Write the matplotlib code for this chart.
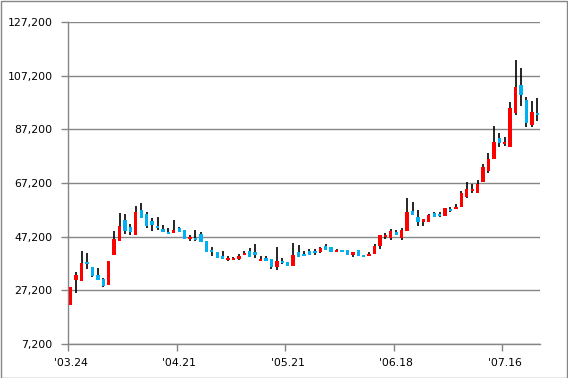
import numpy as np
import matplotlib
matplotlib.use("Agg")
import matplotlib.pyplot as plt
from matplotlib.patches import Rectangle

# OHLC values (87 sessions)
opens = [21730, 31050, 30790, 37870, 35900, 32910, 31420, 29190, 40480, 45590,
         53410, 50800, 47930, 57140, 55650, 53150, 51170, 50060, 49000, 48680,
         50540, 49680, 46440, 46820, 48190, 45590, 42340, 41490, 40110, 38620,
         38620, 38990, 40370, 41860, 41490, 38240, 39360, 38880, 36010, 38240,
         37760, 36380, 41600, 40850, 41970, 41860, 41600, 43720, 43240, 41370,
         41970, 42230, 40480, 42230, 40480, 40110, 40740, 43830, 47190, 46700,
         48940, 46820, 49310, 56650, 54530, 52670, 52780, 56020, 55760, 55010,
         57620, 57510, 58370, 61980, 64330, 63590, 67570, 71780, 76260, 83970,
         81730, 80730, 93400, 103830, 98130, 88810, 93400]
highs = [28330, 34140, 41860, 41220, 36000, 35410, 31910, 38130, 49200, 55910,
         55540, 51920, 58630, 59640, 56280, 54160, 54420, 51660, 50540, 53300,
         50910, 49700, 47930, 49680, 48940, 45600, 43240, 41490, 41860, 40000,
         39730, 40630, 41970, 42860, 44470, 39880, 40000, 38880, 43240, 39140,
         37760, 44730, 44090, 41860, 42600, 42600, 43350, 44470, 43240, 42600,
         42300, 42230, 41490, 42230, 40480, 41370, 44360, 47820, 48570, 50060,
         49800, 50320, 61500, 60120, 57140, 53780, 55760, 56500, 56280, 58000,
         58140, 59370, 64220, 67460, 66720, 68320, 74170, 78270, 88330, 85720,
         84230, 97270, 113040, 110060, 99140, 97760, 98770]
lows = [21730, 26320, 30500, 35150, 32060, 31000, 28550, 29190, 40480, 45590,
        48080, 47930, 47930, 54270, 50540, 49420, 49680, 49050, 48200, 48680,
        48830, 46440, 45470, 45700, 45210, 41490, 39880, 39250, 38990, 38130,
        38430, 38390, 40370, 39730, 39140, 38240, 38240, 35260, 34890, 36900,
        36380, 36380, 39730, 40110, 40480, 40480, 41230, 42230, 41490, 41370,
        41370, 40260, 39730, 40110, 39730, 40110, 40740, 42600, 46330, 45960,
        47820, 45960, 49310, 55270, 51290, 51060, 52780, 54420, 54420, 55010,
        56500, 57510, 58370, 61730, 63360, 63590, 67570, 71040, 76260, 80730,
        81100, 80730, 92540, 95900, 88180, 88180, 90190]
closes = [28330, 32910, 37500, 37130, 32540, 31160, 28930, 38130, 46330, 51180,
          49420, 48940, 56390, 54270, 51170, 51550, 50320, 49050, 48310, 49680,
          48830, 46440, 47190, 46070, 45210, 41490, 41490, 39250, 38990, 39360,
          39360, 40000, 41230, 39730, 40480, 38990, 38240, 35900, 38130, 37390,
          36380, 40370, 39730, 40110, 40480, 41110, 42980, 42230, 41490, 41970,
          41370, 40480, 41490, 40110, 39730, 40850, 43720, 47820, 47820, 49310,
          47820, 49680, 56390, 55270, 52670, 53780, 55270, 54420, 55010, 58000,
          56880, 58370, 63590, 64960, 65080, 66830, 73160, 76140, 82480, 82110,
          82480, 95150, 102980, 100110, 89670, 93770, 92650]

tick_pos = [0, 20, 40, 60, 80]
tick_labels = ["'03.24", "'04.21", "'05.21", "'06.18", "'07.16"]
y_ticks = [7200, 27200, 47200, 67200, 87200, 107200, 127200]

UP = "#ff0000"
DOWN = "#00b0f0"
GRID = "#868686"

o = np.array(opens)
h = np.array(highs)
l = np.array(lows)
c = np.array(closes)
x = np.arange(len(o))

fig = plt.figure(figsize=(5.68, 3.78), dpi=100)
ax = fig.add_axes([68 / 568, 1 - 344 / 378, 472 / 568, 322 / 378])

ax.vlines(x, l, h, color="black", linewidth=1.2, zorder=2)
colors = [UP if cc >= oo else DOWN for oo, cc in zip(o, c)]
body = np.maximum(np.abs(c - o), 700)
ax.bar(x, body, bottom=np.minimum(o, c), width=0.62, color=colors,
       linewidth=0, zorder=3)

ax.set_xlim(-0.5, len(o) - 0.5)
ax.set_ylim(7200, 127200)
ax.set_yticks(y_ticks)
ax.set_yticklabels([f"{v:,}" for v in y_ticks])
ax.yaxis.grid(True, color=GRID, linewidth=1)
ax.set_axisbelow(True)

# category axis: tick marks on boundaries, labels on category centres
ax.set_xticks([p - 0.5 for p in tick_pos])
ax.set_xticklabels([])
ax.set_xticks(tick_pos, minor=True)
ax.set_xticklabels(tick_labels, minor=True)
ax.tick_params(axis="x", which="minor", length=0, pad=10, labelsize=7.8)
ax.tick_params(axis="x", which="major", length=5, color=GRID, width=1)
ax.tick_params(axis="y", length=5, color=GRID, width=1, pad=6, labelsize=7.8)

for s in ["top", "right"]:
    ax.spines[s].set_visible(False)
for s in ["left", "bottom"]:
    ax.spines[s].set_color(GRID)
    ax.spines[s].set_linewidth(1)

fig.patches.append(Rectangle((0.001, 0.001), 0.997, 0.996, transform=fig.transFigure,
                             fill=False, edgecolor=GRID, linewidth=1))

fig.savefig("out.png", dpi=100)
